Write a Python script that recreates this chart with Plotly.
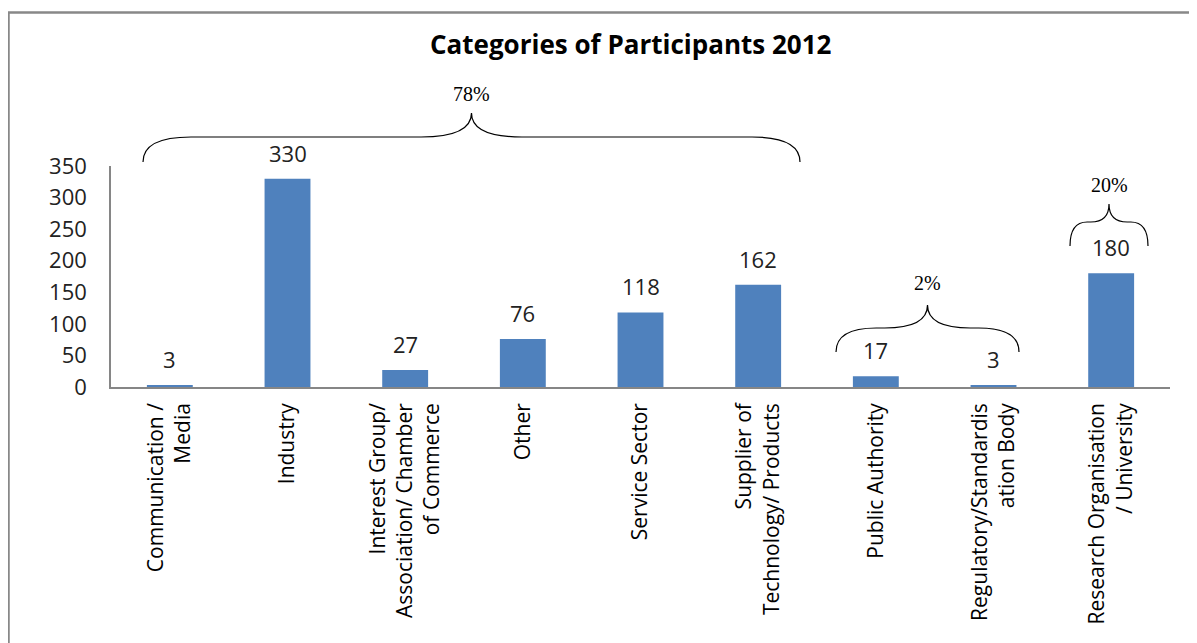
import plotly.graph_objects as go

categories = [
    "Communication /<br>Media",
    "Industry",
    "Interest Group/<br>Association/ Chamber<br>of Commerce",
    "Other",
    "Service Sector",
    "Supplier of<br>Technology/ Products",
    "Public Authority",
    "Regulatory/Standardis<br>ation Body",
    "Research Organisation<br>/ University",
]
values = [3, 330, 27, 76, 118, 162, 17, 3, 180]
title_text = "Categories of Participants 2012"
y_ticks = [0, 50, 100, 150, 200, 250, 300, 350]

# Reference pixel geometry (page coords); the page body has an 8px margin
W, H = 1197, 643
OFF = 8
L, R, T, B = 111, 27, 166, 256
pw, ph = W - L - R, H - T - B

FONT = "Open Sans, Carlito, Calibri, sans-serif"
SERIF = "Liberation Serif, Times New Roman, serif"


def px(x):
    return (x - L) / pw


def py(y):
    return (H - B - y) / ph


# group braces: (label, left px, right px, end y px, flat y px, tip y px, label y px)
groups = [
    ("78%", 143, 800, 162, 137, 113, 94),
    ("2%", 836, 1019, 352, 328, 305, 283),
    ("20%", 1070, 1148, 246, 222, 204, 185),
]

fig = go.Figure(
    go.Bar(
        x=list(range(len(categories))),
        y=values,
        marker=dict(color="#4F81BD", line=dict(width=0)),
        width=0.39,
        hoverinfo="x+y",
    )
)

shapes = []
annotations = []


def brace_path(x0, x1, ye, yf, yt):
    xm = (x0 + x1) / 2
    r = min(48, (x1 - x0) * 0.22)
    d = min(28, (x1 - x0) * 0.13) * 1.8
    return (
        f"M {px(x0)},{py(ye)} "
        f"Q {px(x0)},{py(yf)} {px(x0 + r)},{py(yf)} "
        f"L {px(xm - d)},{py(yf)} "
        f"Q {px(xm)},{py(yf)} {px(xm)},{py(yt)} "
        f"Q {px(xm)},{py(yf)} {px(xm + d)},{py(yf)} "
        f"L {px(x1 - r)},{py(yf)} "
        f"Q {px(x1)},{py(yf)} {px(x1)},{py(ye)}"
    )


for lab, x0, x1, ye, yf, yt, yl in groups:
    shapes.append(dict(type="path", xref="paper", yref="paper",
                       path=brace_path(x0, x1, ye, yf, yt),
                       line=dict(color="black", width=1.2)))
    annotations.append(dict(x=px((x0 + x1) / 2), y=py(yl), xref="paper", yref="paper",
                            xanchor="center", yanchor="middle",
                            text=lab, showarrow=False,
                            font=dict(family=SERIF, size=20, color="black")))

# value labels above bars
for i, v in enumerate(values):
    annotations.append(dict(x=i, y=v, xref="x", yref="y", text=str(v),
                            showarrow=False, xanchor="center", yanchor="bottom",
                            yshift=9, font=dict(family=FONT, size=22, color="#222")))

# outer border (left and top visible)
shapes.append(dict(type="rect", xref="paper", yref="paper",
                   x0=px(8.5), x1=px(1240), y0=py(700), y1=py(12.5),
                   line=dict(color="#888888", width=2.5), layer="below"))

annotations.append(dict(x=px(631), y=py(44), xref="paper", yref="paper",
                        xanchor="center", yanchor="middle",
                        text=f"<b>{title_text}</b>", showarrow=False,
                        font=dict(family=FONT, size=26, color="black")))

fig.update_layout(
    width=W - OFF, height=H - OFF,
    margin=dict(l=L - OFF, r=R, t=T - OFF, b=B, pad=0),
    paper_bgcolor="white", plot_bgcolor="white",
    showlegend=False,
    shapes=shapes,
    annotations=annotations,
    font=dict(family=FONT, color="#222"),
    xaxis=dict(
        tickmode="array",
        tickvals=list(range(len(categories))),
        ticktext=categories,
        tickangle=-90,
        range=[-0.5, len(categories) - 0.5],
        showline=True, linecolor="#868686", linewidth=1.5,
        showgrid=False, zeroline=False, automargin=False,
        ticks="outside", ticklen=4, tickcolor="rgba(0,0,0,0)",
        ticklabelstandoff=2,
        tickfont=dict(family=FONT, size=21, color="black"),
    ),
    yaxis=dict(
        range=[0, 350],
        tickmode="array", tickvals=y_ticks,
        showline=True, linecolor="#868686", linewidth=1.5,
        showgrid=False, zeroline=False, automargin=False,
        ticks="outside", ticklen=8, tickcolor="rgba(0,0,0,0)",
        ticklabelstandoff=10,
        tickfont=dict(family=FONT, size=22, color="#222"),
    ),
)

fig.write_html("out.html")
